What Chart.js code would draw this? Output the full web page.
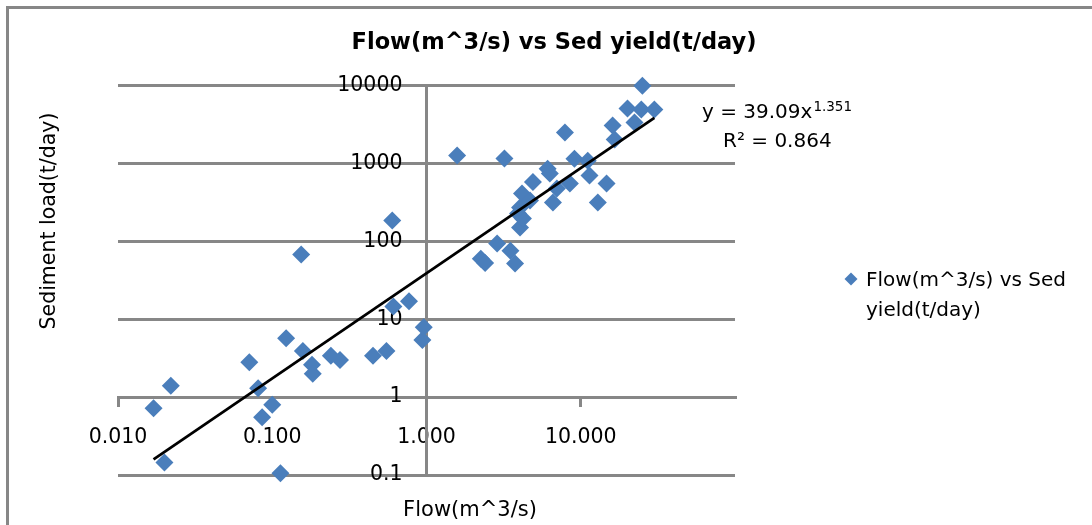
<!DOCTYPE html>
<html>
<head>
<meta charset="utf-8">
<script src="https://cdn.jsdelivr.net/npm/chart.js@4.4.1/dist/chart.umd.min.js"></script>
<style>
  html, body { margin: 0; padding: 0; background: #fff; }
  canvas { display: block; }
</style>
</head>
<body>
<canvas id="chart" width="1092" height="525"></canvas>
<script>
// Flow (m^3/s) and matching sediment load (t/day) samples
const flow = [
  0.017, 0.020, 0.022, 0.071, 0.081, 0.086, 0.10, 0.113, 0.123, 0.154,
  0.158, 0.181, 0.183, 0.24, 0.275, 0.45, 0.55, 0.60, 0.61, 0.77,
  0.94, 0.96, 1.58, 2.25, 2.4, 2.87, 3.2, 3.5, 3.75, 4.04,
  4.22, 3.92, 4.04, 4.16, 4.69, 4.90, 6.1, 6.3, 6.6, 7.0,
  7.9, 8.5, 9.1, 11.1, 11.4, 12.9, 14.7, 16.1, 16.6, 20.1,
  22.3, 24.7, 25.1, 30.0
];
const sedLoad = [
  0.72, 0.145, 1.4, 2.8, 1.3, 0.55, 0.8, 0.105, 5.7, 68,
  3.9, 2.6, 2.0, 3.4, 3.0, 3.4, 3.9, 185, 14.6, 17,
  5.4, 7.9, 1270, 60, 53, 94, 1160, 76, 52, 151,
  197, 228, 272, 412, 335, 580, 860, 745, 316, 478,
  2500, 555, 1150, 1090, 700, 316, 555, 3080, 2030, 5080,
  3360, 4930, 10000, 4930
];

// Axis tick values and their printed labels
const xTickValues = [0.01, 0.1, 1, 10];
const xTickLabels = ['0.010', '0.100', '1.000', '10.000'];
const yTickValues = [0.1, 1, 10, 100, 1000, 10000];
const yTickLabels = ['0.1', '1', '10', '100', '1000', '10000'];

// Power-law trendline y = a * x^b
const FIT_A = 39.09;
const FIT_B = 1.351;
const FIT_R2 = 0.864;

const SERIES_LABEL = ['Flow(m^3/s) vs Sed', 'yield(t/day)'];
const CHART_TITLE = 'Flow(m^3/s) vs Sed yield(t/day)';
const X_TITLE = 'Flow(m^3/s)';
const Y_TITLE = 'Sediment load(t/day)';

const BLUE = '#4a7ebb';
const GRID = '#878787';
const FONT = "'DejaVu Sans', sans-serif";
const Y_LABEL_GAP = 24;

const points = flow.map((q, i) => ({ x: q, y: sedLoad[i] }));
const qMin = Math.min(...flow);
const qMax = Math.max(...flow);
const fitLine = [qMin, qMax].map(q => ({ x: q, y: FIT_A * Math.pow(q, FIT_B) }));

function diamond(c, x, y, r) {
  c.beginPath();
  c.moveTo(x - r, y);
  c.lineTo(x, y - r);
  c.lineTo(x + r, y);
  c.lineTo(x, y + r);
  c.closePath();
  c.fill();
}

const decor = {
  id: 'decor',
  beforeDraw(chart) {
    const c = chart.ctx;
    c.save();
    c.fillStyle = '#fff';
    c.fillRect(0, 0, chart.width, chart.height);
    // frame edges
    c.strokeStyle = GRID;
    c.lineWidth = 3;
    c.beginPath();
    c.moveTo(7.5, chart.height);
    c.lineTo(7.5, 7.5);
    c.lineTo(chart.width, 7.5);
    c.stroke();
    c.restore();

    // keep the value labels clear of the crossing vertical axis
    const items = chart.scales.y.getLabelItems();
    items.forEach(item => {
      if (!item._shifted) {
        item.options.translation[0] -= Y_LABEL_GAP;
        item._shifted = true;
      }
    });
  },
  afterDraw(chart) {
    const c = chart.ctx;
    c.save();
    c.fillStyle = '#000';

    // title
    c.font = `bold 22.5px ${FONT}`;
    c.textAlign = 'center';
    c.textBaseline = 'middle';
    c.fillText(CHART_TITLE, 554, 43);

    // axis titles
    c.font = `21px ${FONT}`;
    c.fillText(X_TITLE, 470, 511);
    c.font = `20.5px ${FONT}`;
    c.save();
    c.translate(50, 221);
    c.rotate(-Math.PI / 2);
    c.fillText(Y_TITLE, 0, 0);
    c.restore();

    // trendline equation
    c.textAlign = 'left';
    c.textBaseline = 'alphabetic';
    c.font = `20px ${FONT}`;
    const eq = `y = ${FIT_A.toFixed(2)}x`;
    c.fillText(eq, 702, 118);
    const eqW = c.measureText(eq).width;
    c.font = `13.5px ${FONT}`;
    c.fillText(FIT_B.toFixed(3), 702 + eqW + 1, 111);
    c.font = `20px ${FONT}`;
    c.fillText(`R\u00B2 = ${FIT_R2.toFixed(3)}`, 723, 147);

    // legend
    c.fillStyle = BLUE;
    diamond(c, 851, 279, 6.5);
    c.fillStyle = '#000';
    c.font = `20px ${FONT}`;
    c.fillText(SERIES_LABEL[0], 866, 286);
    c.fillText(SERIES_LABEL[1], 866, 316);
    c.restore();
  }
};

new Chart(document.getElementById('chart'), {
  type: 'scatter',
  data: {
    datasets: [
      {
        label: SERIES_LABEL.join(' '),
        data: points,
        pointStyle: 'rectRot',
        pointRadius: 9,
        pointHoverRadius: 9,
        backgroundColor: BLUE,
        borderColor: BLUE,
        borderWidth: 0,
        clip: false,
        order: 1
      },
      {
        type: 'line',
        label: 'Power fit',
        data: fitLine,
        borderColor: '#000',
        borderWidth: 2.8,
        pointRadius: 0,
        fill: false,
        clip: false,
        order: 0
      }
    ]
  },
  options: {
    responsive: false,
    animation: false,
    devicePixelRatio: 1,
    layout: { padding: { left: 118, right: 357, top: 85.7, bottom: 50 } },
    plugins: {
      legend: { display: false },
      title: { display: false },
      tooltip: { enabled: false }
    },
    scales: {
      x: {
        type: 'logarithmic',
        min: 0.01,
        max: 100,
        position: { y: 1 },
        afterBuildTicks(scale) { scale.ticks = xTickValues.map(v => ({ value: v })); },
        afterFit(scale) { scale.height = 0; },
        ticks: {
          autoSkip: false,
          maxRotation: 0,
          padding: 20,
          color: '#000',
          font: { family: FONT, size: 20.5 },
          callback: (v, i) => xTickLabels[i]
        },
        grid: { drawOnChartArea: false, drawTicks: true, tickLength: 8, color: GRID, lineWidth: 3 },
        border: { display: true, color: GRID, width: 3 }
      },
      y: {
        type: 'logarithmic',
        min: 0.1,
        max: 10000,
        position: { x: 1 },
        afterBuildTicks(scale) { scale.ticks = yTickValues.map(v => ({ value: v })); },
        afterFit(scale) { scale.width = 0; },
        ticks: {
          autoSkip: false,
          color: '#000',
          font: { family: FONT, size: 20.5 },
          callback: (v, i) => yTickLabels[i]
        },
        grid: { drawTicks: false, color: GRID, lineWidth: 3 },
        border: { display: true, color: GRID, width: 3 }
      }
    }
  },
  plugins: [decor]
});
</script>
</body>
</html>
